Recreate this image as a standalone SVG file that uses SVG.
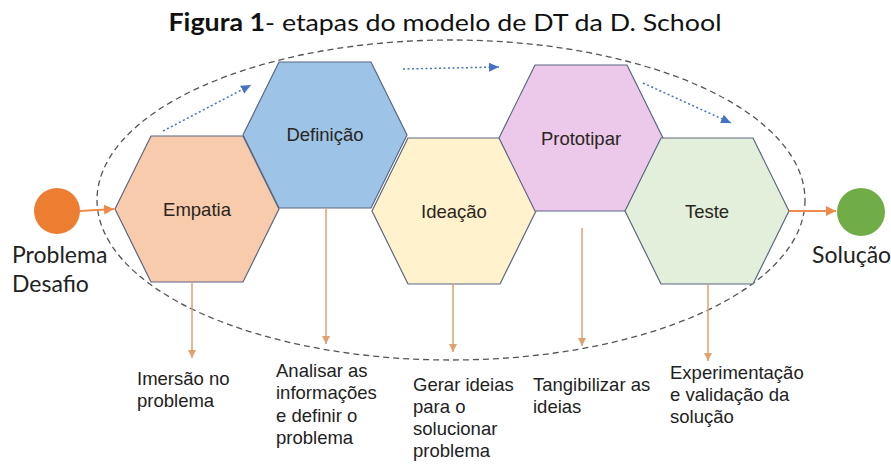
<svg xmlns="http://www.w3.org/2000/svg" width="891" height="464" viewBox="0 0 891 464">
<style>
.hex{stroke:#5a6680;stroke-width:1.2}
.hl{font-family:"Liberation Sans",Arial,sans-serif;font-size:18.5px;fill:#2a2520;text-anchor:middle}
.bl{font-family:"Liberation Sans",Arial,sans-serif;font-size:18.5px;fill:#222}
.cl{font-family:Lato,"Open Sans",sans-serif;font-size:23px;fill:#222}
.down{stroke:#e0a070;stroke-width:1.5;fill:none;marker-end:url(#oa)}
.blue{stroke:#4472c4;stroke-width:1.5;stroke-dasharray:2 2.5;fill:none;marker-end:url(#ba)}
.flow{stroke:#ed8c4a;stroke-width:1.8;fill:none;marker-end:url(#fa)}
</style>
<defs>
<marker id="oa" markerWidth="10" markerHeight="10" refX="8" refY="4" orient="auto" markerUnits="userSpaceOnUse"><path d="M0,0 L8,4 L0,8 Z" fill="#e0a070"/></marker>
<marker id="fa" markerWidth="12" markerHeight="12" refX="10" refY="5" orient="auto" markerUnits="userSpaceOnUse"><path d="M0,0 L10,5 L0,10 Z" fill="#ed8c4a"/></marker>
<marker id="ba" markerWidth="12" markerHeight="12" refX="10" refY="4.5" orient="auto" markerUnits="userSpaceOnUse"><path d="M0,0 L10,4.5 L0,9 Z" fill="#4472c4"/></marker>
</defs>
<rect width="891" height="464" fill="#ffffff"/>
<text x="445" y="31" text-anchor="middle" font-family="Lato,'Open Sans',sans-serif" font-size="24" fill="#111" textLength="553" lengthAdjust="spacingAndGlyphs"><tspan font-weight="bold">Figura 1</tspan>- etapas do modelo de DT da D. School</text>
<ellipse cx="451" cy="200" rx="354" ry="160" fill="none" stroke="#555" stroke-width="1.3" stroke-dasharray="6 4"/>
<g id="empatia"><polygon class="hex" fill="#f8cbad" points="115,209 151,136 243,136 279,209 243,282 151,282"/><text class="hl" x="197" y="216">Empatia</text></g>
<g id="definicao"><polygon class="hex" fill="#9dc3e6" points="243,135 279,62 371,62 407,135 371,208 279,208"/><text class="hl" x="325" y="141">Definição</text></g>
<g id="ideacao"><polygon class="hex" fill="#fff2cc" points="372,211 408,138 500,138 536,211 500,284 408,284"/><text class="hl" x="454" y="218">Ideação</text></g>
<g id="prototipar"><polygon class="hex" fill="#ecc9ea" points="499,138 535,65 627,65 663,138 627,211 535,211"/><text class="hl" x="581" y="145">Prototipar</text></g>
<g id="teste"><polygon class="hex" fill="#e2efda" points="625,211 661,138 753,138 789,211 753,284 661,284"/><text class="hl" x="707" y="218">Teste</text></g>
<g id="problema"><circle cx="57" cy="211" r="23" fill="#ed7d31"/><text class="cl" x="12" y="263">Problema</text><text class="cl" x="12" y="292">Desafio</text></g>
<g id="solucao"><circle cx="861" cy="212" r="24" fill="#70ad47"/><text class="cl" x="812" y="263">Solução</text></g>
<g id="connectors">
<line class="flow" x1="80" y1="211" x2="114" y2="209"/>
<line class="flow" x1="789" y1="211" x2="836" y2="211"/>
<line class="blue" x1="163" y1="131" x2="251" y2="85"/>
<line class="blue" x1="403" y1="69" x2="499" y2="67"/>
<line class="blue" x1="643" y1="83" x2="731" y2="123"/>
<line class="down" x1="192" y1="282" x2="192" y2="358"/>
<line class="down" x1="326" y1="208" x2="326" y2="344"/>
<line class="down" x1="453" y1="284" x2="453" y2="352"/>
<line class="down" x1="582" y1="228" x2="582" y2="346"/>
<line class="down" x1="708" y1="284" x2="708" y2="361"/>
</g>
<g id="labels">
<text class="bl" x="137" y="385">Imersão no</text><text class="bl" x="137" y="407">problema</text>
<text class="bl" x="276" y="377">Analisar as</text><text class="bl" x="276" y="399">informações</text><text class="bl" x="276" y="422">e definir o</text><text class="bl" x="276" y="444">problema</text>
<text class="bl" x="413" y="391">Gerar ideias</text><text class="bl" x="413" y="413">para o</text><text class="bl" x="413" y="435">solucionar</text><text class="bl" x="413" y="457">problema</text>
<text class="bl" x="533" y="391">Tangibilizar as</text><text class="bl" x="533" y="413">ideias</text>
<text class="bl" x="670" y="379">Experimentação</text><text class="bl" x="670" y="401">e validação da</text><text class="bl" x="670" y="423">solução</text>
</g>
</svg>
